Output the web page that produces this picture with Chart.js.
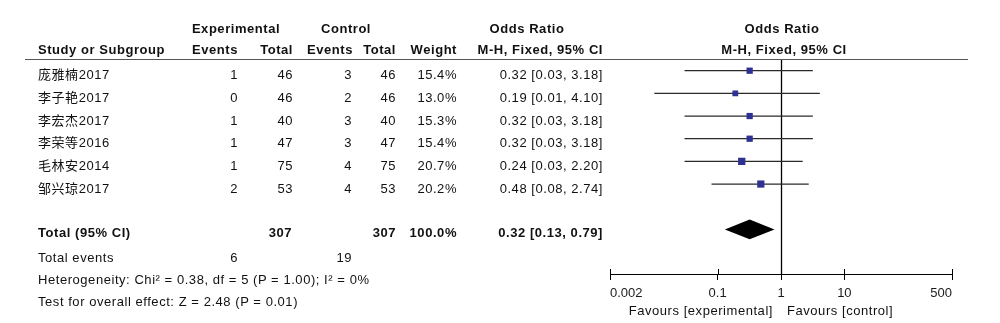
<!DOCTYPE html>
<html><head><meta charset="utf-8">
<script src="https://cdn.jsdelivr.net/npm/chart.js@4.4.1/dist/chart.umd.min.js"></script>
<style>
html,body{margin:0;padding:0;background:#fff;}
#wrap{position:relative;width:1000px;height:323px;overflow:hidden;background:#fff;}
#c{position:absolute;left:0;top:0;width:1000px;height:323px;}
.t{position:absolute;white-space:nowrap;font-family:"Liberation Sans",Arial,"Noto Sans CJK SC",sans-serif;font-size:13px;line-height:16px;letter-spacing:0.55px;color:#111;}
.b{font-weight:bold;}
#rule{position:absolute;left:25px;width:943px;top:59px;height:1px;background:#555;}
</style></head><body>
<div id="wrap"><canvas id="c" width="1000" height="323"></canvas><div id="rule"></div></div>
<script>
// ---- data ----
const studies   = ['庞雅楠2017','李子艳2017','李宏杰2017','李荣等2016','毛林安2014','邹兴琼2017'];
const expEvents = [1,0,1,1,1,2];
const expTotal  = [46,46,40,47,75,53];
const ctlEvents = [3,2,3,3,4,4];
const ctlTotal  = [46,46,40,47,75,53];
const weights   = [15.4,13.0,15.3,15.4,20.7,20.2];
const oddsRatio = [0.32,0.19,0.32,0.32,0.24,0.48];
const ciLow     = [0.03,0.01,0.03,0.03,0.03,0.08];
const ciHigh    = [3.18,4.10,3.18,3.18,2.20,2.74];
const pooled    = [0.32,0.13,0.79]; // OR, low, high
const totals    = [307,307];        // experimental, control
const totalEvents = [6,19];
const totalWeight = 100.0;
const tickValues = [0.002,0.1,1,10,500];
const tickLabels = ['0.002','0.1','1','10','500'];
const heteroText = 'Heterogeneity: Chi\u00b2 = 0.38, df = 5 (P = 1.00); I\u00b2 = 0%';
const effectText = 'Test for overall effect: Z = 2.48 (P = 0.01)';
const favours = ['Favours [experimental]','Favours [control]'];

// ---- text table ----
const wrap = document.getElementById('wrap');
function put(txt, x, base, align, bold){
  const d = document.createElement('div');
  d.className = 't' + (bold ? ' b' : '');
  d.textContent = txt;
  d.style.top = (base - 12.5) + 'px';
  if (align === 'right') d.style.right = (1000 - x) + 'px';
  else if (align === 'center') { d.style.left = x + 'px'; d.style.transform = 'translateX(-50%)'; }
  else d.style.left = x + 'px';
  wrap.appendChild(d);
}
const fmtOR = (o,l,h) => o.toFixed(2) + ' [' + l.toFixed(2) + ', ' + h.toFixed(2) + ']';
// headers
put('Experimental', 236, 33, 'center', true);
put('Control', 346, 33, 'center', true);
put('Odds Ratio', 527, 33, 'center', true);
put('Odds Ratio', 782, 33, 'center', true);
put('Study or Subgroup', 38, 54, 'left', true);
put('Events', 238, 54, 'right', true);
put('Total', 293, 54, 'right', true);
put('Events', 353, 54, 'right', true);
put('Total', 396, 54, 'right', true);
put('Weight', 457, 54, 'right', true);
put('M-H, Fixed, 95% CI', 603, 54, 'right', true);
put('M-H, Fixed, 95% CI', 784, 54, 'center', true);
// rows
studies.forEach((s,i) => {
  const b = 79.6 + 22.7 * i;
  put(s, 38, b, 'left');
  put(String(expEvents[i]), 238, b, 'right');
  put(String(expTotal[i]), 293, b, 'right');
  put(String(ctlEvents[i]), 352, b, 'right');
  put(String(ctlTotal[i]), 396, b, 'right');
  put(weights[i].toFixed(1) + '%', 457, b, 'right');
  put(fmtOR(oddsRatio[i], ciLow[i], ciHigh[i]), 603, b, 'right');
});
put('Total (95% CI)', 38, 237.3, 'left', true);
put(String(totals[0]), 292, 237.3, 'right', true);
put(String(totals[1]), 396, 237.3, 'right', true);
put(totalWeight.toFixed(1) + '%', 457, 237.3, 'right', true);
put(fmtOR(pooled[0], pooled[1], pooled[2]), 603, 237.3, 'right', true);
put('Total events', 38, 262.6, 'left');
put(String(totalEvents[0]), 238, 262.6, 'right');
put(String(totalEvents[1]), 352, 262.6, 'right');
put(heteroText, 38, 284.6, 'left');
put(effectText, 38, 306.6, 'left');
put(favours[0], 773, 315.5, 'right');
put(favours[1], 787, 315.5, 'left');

// ---- chart ----
const pooledRow = studies.length + 1;
const datasets = [{
  label: 'OR',
  data: studies.map((s,i) => ({x: oddsRatio[i], y: i})),
  pointStyle: 'rect',
  pointRadius: weights.map(w => 1.6 * Math.sqrt(w) / Math.SQRT2),
  backgroundColor: '#2e3192',
  borderWidth: 0
}];
studies.forEach((s,i) => {
  datasets.push({
    label: s,
    data: [{x: ciLow[i], y: i}, {x: ciHigh[i], y: i}],
    showLine: true,
    pointRadius: 0,
    borderColor: '#2a2a2a',
    borderWidth: 1.2
  });
});

const forestPlugin = {
  id: 'forest',
  beforeDatasetsDraw(chart){
    const {ctx, chartArea, scales:{x}} = chart;
    ctx.save();
    ctx.strokeStyle = '#000';
    ctx.lineWidth = 1.3;
    const px = Math.round(x.getPixelForValue(1)) + 0.5;
    ctx.beginPath(); ctx.moveTo(px, chartArea.top); ctx.lineTo(px, chartArea.bottom); ctx.stroke();
    ctx.lineWidth = 1;
    tickValues.forEach(v => {
      const tx = Math.round(x.getPixelForValue(v)) + 0.5;
      ctx.beginPath(); ctx.moveTo(tx, chartArea.bottom - 5); ctx.lineTo(tx, chartArea.bottom); ctx.stroke();
    });
    ctx.restore();
  },
  afterDatasetsDraw(chart){
    const {ctx, scales:{x,y}} = chart;
    const cy = y.getPixelForValue(pooledRow);
    const h = 9.8;
    ctx.save();
    ctx.fillStyle = '#000';
    ctx.beginPath();
    ctx.moveTo(x.getPixelForValue(pooled[1]), cy);
    ctx.lineTo(x.getPixelForValue(pooled[0]), cy - h);
    ctx.lineTo(x.getPixelForValue(pooled[2]), cy);
    ctx.lineTo(x.getPixelForValue(pooled[0]), cy + h);
    ctx.closePath();
    ctx.fill();
    ctx.restore();
  }
};

new Chart(document.getElementById('c'), {
  type: 'scatter',
  data: { datasets },
  plugins: [forestPlugin],
  options: {
    responsive: false,
    animation: false,
    events: [],
    layout: { padding: { left: 610, right: 48, top: 60, bottom: 0 } },
    plugins: { legend: { display: false }, tooltip: { enabled: false } },
    scales: {
      x: {
        type: 'logarithmic',
        min: tickValues[0],
        max: tickValues[tickValues.length - 1],
        afterBuildTicks: (s) => { s.ticks = tickValues.map(v => ({value: v})); },
        afterFit: (s) => { s.height = 49; },
        grid: { display: true, drawOnChartArea: false, drawTicks: true, tickLength: 6, color: '#000', lineWidth: 1 },
        border: { display: true, color: '#000', width: 1 },
        ticks: {
          autoSkip: false, maxRotation: 0, align: 'inner', padding: 5.5,
          color: '#1a1a1a',
          font: { family: '"Liberation Sans", Arial, sans-serif', size: 13 },
          callback: (v, i) => tickLabels[i]
        }
      },
      y: {
        type: 'linear',
        display: false,
        reverse: true,
        min: -0.472,
        max: 8.968
      }
    }
  }
});
</script>
</body></html>
